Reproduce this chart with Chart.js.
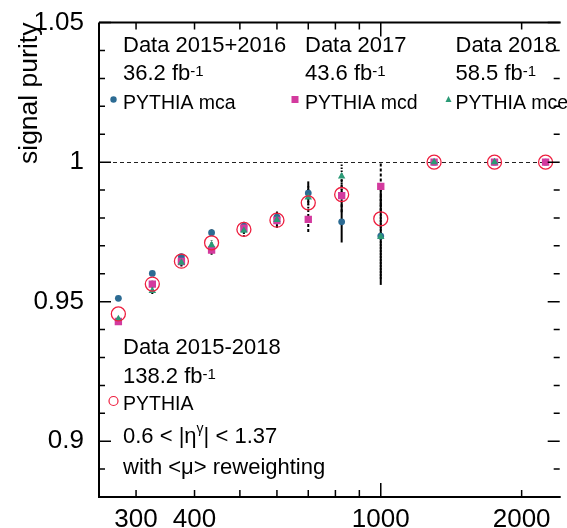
<!DOCTYPE html>
<html>
<head>
<meta charset="utf-8">
<script src="https://cdn.jsdelivr.net/npm/chart.js@4.4.1/dist/chart.umd.min.js"></script>
<style>
  html, body { margin: 0; padding: 0; background: #fff; }
  #wrap { width: 567px; height: 528px; position: relative; }
</style>
</head>
<body>
<div id="wrap"><canvas id="pureza"></canvas></div>
<script>
// bin centres in photon pT [GeV]
var binCentres = [275, 325, 375, 435, 510, 600, 700, 825, 1000, 1300, 1750, 2250];

// signal purity per sample
var purityAll = [0.9456, 0.9563, 0.9645, 0.9711, 0.9759, 0.9792, 0.9854, 0.9884, 0.9797, 1, 1, 1];
var purityMca = [0.9512, 0.9601, 0.9661, 0.9747, 0.9771, 0.9803, 0.9889, 0.9786, 0.9735, 1, 1, 1];
var purityMcd = [0.9429, 0.9563, 0.9644, 0.9685, 0.9763, 0.9791, 0.9795, 0.9880, 0.9913, 1, 1, 1];
var purityMce = [0.9438, 0.9539, 0.9640, 0.9703, 0.9755, 0.9793, 0.9874, 0.9949, 0.9732, 1, 1, null];

// statistical uncertainties (clipped at purity = 1 when drawn)
var errMca = [0.0008, 0.0009, 0.0010, 0.0012, 0.0015, 0.0020, 0.0042, 0.0074, 0.0175, 0, 0, 0];
var errMcd = [0.0010, 0.0012, 0.0014, 0.0017, 0.0020, 0.0025, 0.0045, 0.0060, 0.0090, 0, 0, 0];
var errMce = [0.0010, 0.0012, 0.0014, 0.0017, 0.0022, 0.0028, 0.0040, 0.0060, 0.0150, 0, 0, 0];

// axes
var xTickLabels = [300, 400, 1000, 2000];
var xMinorTicks = [300, 400, 500, 600, 700, 800, 900, 2000];
var xMajorTicks = [1000];
var purityLimit = 1;

var FONT = "'Liberation Sans', Arial, Helvetica, sans-serif";
var C_MCA = '#2c6b93', C_MCD = '#d33a9e', C_MCE = '#2b9a76', C_ALL = '#ee1f3f';

function pts(ys) {
    return binCentres.map(function (x, i) { return { x: x, y: ys[i] }; })
        .filter(function (p) { return p.y !== null; });
}

function isMajorY(v) {
    return Math.abs(v * 20 - Math.round(v * 20)) < 1e-6;
}

// ── error bars, drawn beneath the markers ─────────────────────────────
var errorBars = {
    id: 'errorBars',
    beforeDatasetsDraw: function (chart) {
        var ctx = chart.ctx, xs = chart.scales.x, ys = chart.scales.y;
        var sets = [
            { v: purityMca, e: errMca, dash: [] },
            { v: purityMcd, e: errMcd, dash: [3, 2] },
            { v: purityMce, e: errMce, dash: [1.5, 1.5] }
        ];
        ctx.save();
        ctx.strokeStyle = '#000';
        ctx.lineWidth = 2;
        sets.forEach(function (s) {
            ctx.setLineDash(s.dash);
            s.v.forEach(function (v, i) {
                if (v === null || !s.e[i]) return;
                var px = xs.getPixelForValue(binCentres[i]);
                var hi = Math.min(purityLimit, v + s.e[i]);
                ctx.beginPath();
                ctx.moveTo(px, ys.getPixelForValue(v - s.e[i]));
                ctx.lineTo(px, ys.getPixelForValue(hi));
                ctx.stroke();
            });
        });
        // reference line at purity 1
        ctx.setLineDash([4, 3]);
        ctx.lineWidth = 1;
        ctx.strokeStyle = '#222';
        var y1 = Math.round(ys.getPixelForValue(purityLimit)) + 0.5;
        ctx.beginPath();
        ctx.moveTo(chart.chartArea.left, y1);
        ctx.lineTo(chart.chartArea.right, y1);
        ctx.stroke();
        ctx.restore();
    }
};

// ── frame with inward ticks ────────────────────────────────────────────
var frame = {
    id: 'frame',
    afterDraw: function (chart) {
        var ctx = chart.ctx, a = chart.chartArea, xs = chart.scales.x, ys = chart.scales.y;
        ctx.save();
        ctx.strokeStyle = '#000';
        ctx.lineWidth = 2;
        ctx.beginPath();
        ctx.moveTo(a.left, a.top); ctx.lineTo(a.left, a.bottom); ctx.lineTo(a.right + 2, a.bottom);
        ctx.moveTo(a.left, a.top); ctx.lineTo(a.right + 2, a.top);
        ctx.stroke();

        ctx.lineWidth = 1.5;
        ctx.beginPath();
        ys.ticks.forEach(function (t) {
            var py = ys.getPixelForValue(t.value);
            var len = isMajorY(t.value) ? 12 : 6;
            ctx.moveTo(a.left, py); ctx.lineTo(a.left + len, py);
            ctx.moveTo(a.right + 1, py); ctx.lineTo(a.right + 1 - len, py);
        });
        function xt(v, len) {
            var px = xs.getPixelForValue(v);
            ctx.moveTo(px, a.bottom); ctx.lineTo(px, a.bottom - len);
            ctx.moveTo(px, a.top); ctx.lineTo(px, a.top + len);
        }
        xMinorTicks.forEach(function (v) { xt(v, 7); });
        xMajorTicks.forEach(function (v) { xt(v, 14); });
        ctx.stroke();
        ctx.restore();
    }
};

// ── text labels and legend ────────────────────────────────────────────
function txt(ctx, s, x, y, size) {
    ctx.font = size + 'px ' + FONT;
    ctx.fillText(s, x, y);
    return ctx.measureText(s).width;
}
function lumi(ctx, s, x, y) {
    var w = txt(ctx, s + ' fb', x, y, 22);
    txt(ctx, '-1', x + w, y - 4, 15);
}

var labels = {
    id: 'labels',
    afterDraw: function (chart) {
        var ctx = chart.ctx;
        ctx.save();
        ctx.fillStyle = '#000';
        ctx.textAlign = 'left';
        ctx.textBaseline = 'alphabetic';

        txt(ctx, 'Data 2015+2016', 123, 52, 22);
        txt(ctx, 'Data 2017', 305, 52, 22);
        txt(ctx, 'Data 2018', 455.5, 52, 22);
        lumi(ctx, '36.2', 123, 79.5);
        lumi(ctx, '43.6', 305, 79.5);
        lumi(ctx, '58.5', 455.5, 79.5);
        txt(ctx, 'PYTHIA mca', 123, 108.5, 19.5);
        txt(ctx, 'PYTHIA mcd', 305, 108.5, 19.5);
        txt(ctx, 'PYTHIA mce', 455.5, 108.5, 19.5);

        txt(ctx, 'Data 2015-2018', 123, 353.5, 22);
        lumi(ctx, '138.2', 123, 382.5);
        txt(ctx, 'PYTHIA', 123, 410, 19.5);
        var w = txt(ctx, '0.6 < |\u03B7', 123, 442.5, 22);
        var g = txt(ctx, '\u03B3', 123 + w, 433, 14);
        txt(ctx, '| < 1.37', 123 + w + g, 442.5, 22);
        txt(ctx, 'with <\u03BC> reweighting', 123, 473.5, 22);

        // legend markers
        ctx.fillStyle = C_MCA;
        ctx.beginPath(); ctx.arc(113.5, 99.5, 3.2, 0, Math.PI * 2); ctx.fill();
        ctx.fillStyle = C_MCD;
        ctx.fillRect(291.5, 96, 7, 7);
        ctx.fillStyle = C_MCE;
        ctx.beginPath(); ctx.moveTo(448.5, 96); ctx.lineTo(451.5, 102); ctx.lineTo(445.5, 102); ctx.closePath(); ctx.fill();
        ctx.strokeStyle = C_ALL; ctx.lineWidth = 1.2;
        ctx.beginPath(); ctx.arc(113.5, 401, 4.5, 0, Math.PI * 2); ctx.stroke();
        ctx.restore();
    }
};

new Chart(document.getElementById('pureza'), {
    type: 'scatter',
    data: {
        datasets: [
            { label: 'PYTHIA', data: pts(purityAll), pointStyle: 'circle', pointRadius: 7,
              backgroundColor: 'rgba(0,0,0,0)', borderColor: C_ALL, borderWidth: 1.3 },
            { label: 'PYTHIA mce', data: pts(purityMce), pointStyle: 'triangle', pointRadius: 4.3,
              backgroundColor: C_MCE, borderColor: C_MCE, borderWidth: 0 },
            { label: 'PYTHIA mcd', data: pts(purityMcd), pointStyle: 'rect', pointRadius: 5.2,
              backgroundColor: C_MCD, borderColor: C_MCD, borderWidth: 0 },
            { label: 'PYTHIA mca', data: pts(purityMca), pointStyle: 'circle', pointRadius: 3.4,
              backgroundColor: C_MCA, borderColor: C_MCA, borderWidth: 0 }
        ]
    },
    options: {
        responsive: true,
        maintainAspectRatio: false,
        animation: false,
        layout: { padding: { top: 21, left: 0, right: 0, bottom: 0 } },
        plugins: { legend: { display: false }, tooltip: { enabled: false } },
        scales: {
            x: {
                type: 'logarithmic',
                min: 250,
                max: 2400,
                grid: { display: false },
                border: { display: false },
                afterBuildTicks: function (s) {
                    s.ticks = xTickLabels.map(function (v) { return { value: v }; });
                },
                afterFit: function (s) { s.height = 31; },
                ticks: {
                    autoSkip: false,
                    maxRotation: 0,
                    padding: -1,
                    color: '#000',
                    font: { family: FONT, size: 26 },
                    callback: function (v) { return String(v); }
                }
            },
            y: {
                min: 0.88,
                max: 1.05,
                grid: { display: false },
                border: { display: false },
                afterFit: function (s) { s.width = 99; },
                title: {
                    display: true,
                    text: 'signal purity',
                    align: 'end',
                    color: '#000',
                    padding: { top: 14, bottom: 0 },
                    font: { family: FONT, size: 26.5 }
                },
                ticks: {
                    stepSize: 0.01,
                    maxTicksLimit: 100,
                    autoSkip: false,
                    padding: 7,
                    color: '#000',
                    font: { family: FONT, size: 26 },
                    callback: function (v) {
                        return isMajorY(v) ? String(Number(v.toFixed(2))) : '';
                    }
                }
            }
        }
    },
    plugins: [errorBars, frame, labels]
});
</script>
</body>
</html>
